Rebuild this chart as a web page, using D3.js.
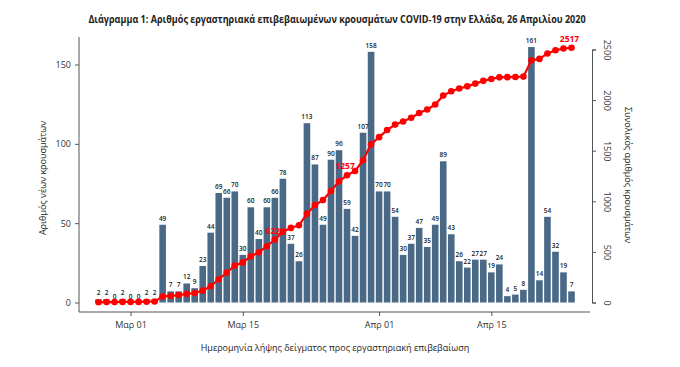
<!DOCTYPE html>
<html lang="el">
<head>
<meta charset="utf-8">
<script src="https://d3js.org/d3.v7.min.js"></script>
<style>
  body { margin: 0; background: #fff; }
  text { font-family: "Open Sans", "DejaVu Sans", sans-serif; fill: #222; }
  .axis path, .axis line { stroke: #555; }
  .barlab { font-size: 6.5px; font-weight: 600; text-anchor: middle; }
  .redlab { font-size: 8.5px; font-weight: 700; fill: #f00; text-anchor: middle; }
</style>
</head>
<body>
<div id="chart"></div>
<script>
  let width = 680;
  let height = 367;

  // Data
  let startDate = "2020-02-26";
  let newCases = [
    2, 2, 0, 2, 0, 0, 2, 2, 49, 7, 7, 12, 9, 23, 44, 69, 66, 70,
    30, 60, 40, 60, 66, 78, 37, 26, 113, 87, 49, 90, 96, 59, 42, 107, 158,
    70, 70, 54, 30, 37, 47, 35, 49, 89, 43, 26, 22, 27, 27, 19, 24, 4, 5, 8, 161, 14, 54, 32, 19, 7
  ];
  let totalCases = [
    2, 4, 4, 6, 6, 6, 8, 10, 59, 66, 73, 85, 94, 117, 161, 230, 296, 366,
    396, 456, 496, 556, 622, 700, 737, 763, 876, 963, 1012, 1102, 1198, 1257, 1299, 1406, 1564,
    1634, 1704, 1758, 1788, 1825, 1872, 1907, 1956, 2045, 2088, 2114, 2136, 2163, 2190, 2209,
    2225, 2227, 2229, 2232, 2393, 2407, 2461, 2493, 2510, 2517
  ];
  let tickDates = ["2020-03-01", "2020-03-15", "2020-04-01", "2020-04-15"];
  let tickLabels = ["Μαρ 01", "Μαρ 15", "Απρ 01", "Απρ 15"];
  let leftTicks = [0, 50, 100, 150];
  let rightTicks = [0, 500, 1000, 1500, 2000, 2500];
  let markDates = ["2020-03-19", "2020-03-28", "2020-04-25"];
  let markTexts = ["622", "1257", "2517"];

  let parse = d3.timeParse("%Y-%m-%d");
  let start = parse(startDate);
  let days = newCases.map(function (d, i) {
    return d3.timeDay.offset(start, i);
  });

  let svg = d3.select("#chart").append("svg")
    .attr("width", width)
    .attr("height", height);

  let x = d3.scaleTime()
    .domain([start, days[days.length - 1]])
    .range([98.5, 571.5]);
  let yLeft = d3.scaleLinear().domain([0, 150]).range([302.5, 64.5]);
  let yRight = d3.scaleLinear().domain([0, 2500]).range([302.5, 49.5]);
  let barW = 6.6;

  // Title (squeezed horizontally to the reference width)
  let title = svg.append("text")
    .attr("text-anchor", "middle")
    .style("font-size", "11px")
    .style("font-weight", "700")
    .text("Διάγραμμα 1: Αριθμός εργαστηριακά επιβεβαιωμένων κρουσμάτων COVID-19 στην Ελλάδα, 26 Απριλίου 2020");
  let tw = title.node().getComputedTextLength();
  let sx = Math.min(1, 498 / tw);
  title.attr("transform", "translate(337,23) scale(" + sx + ",1)");

  // Bars
  svg.append("g").selectAll("rect")
    .data(newCases)
    .enter().append("rect")
    .attr("x", function (d, i) { return x(days[i]) - barW / 2; })
    .attr("y", function (d) { return yLeft(d); })
    .attr("width", barW)
    .attr("height", function (d) { return yLeft(0) - yLeft(d); })
    .attr("fill", "#4a6986");

  svg.append("g").selectAll("text")
    .data(newCases)
    .enter().append("text")
    .classed("barlab", true)
    .attr("x", function (d, i) { return x(days[i]); })
    .attr("y", function (d) { return yLeft(d) - 4; })
    .text(function (d) { return d; });

  // Cumulative line
  let line = d3.line()
    .x(function (d, i) { return x(days[i]); })
    .y(function (d) { return yRight(d); });
  svg.append("path")
    .datum(totalCases)
    .attr("d", line)
    .attr("fill", "none")
    .attr("stroke", "#f00")
    .attr("stroke-width", 2.2);
  svg.append("g").selectAll("circle")
    .data(totalCases)
    .enter().append("circle")
    .attr("cx", function (d, i) { return x(days[i]); })
    .attr("cy", function (d) { return yRight(d); })
    .attr("r", 3.3)
    .attr("fill", "#f00");

  markDates.forEach(function (md, k) {
    let i = d3.timeDay.count(start, parse(md));
    svg.append("text")
      .classed("redlab", true)
      .attr("x", x(days[i]) - 2)
      .attr("y", yRight(totalCases[i]) - 6)
      .text(markTexts[k]);
  });

  // Left axis
  let gl = svg.append("g").attr("class", "axis").attr("transform", "translate(79,0)");
  gl.call(d3.axisLeft(yLeft).tickValues(leftTicks).tickSize(4).tickPadding(4).tickFormat(d3.format("d")));
  gl.select(".domain").remove();
  gl.selectAll("text").style("font-size", "9px").style("fill", "#333");
  svg.append("line").attr("x1", 79).attr("x2", 79).attr("y1", 37).attr("y2", 312)
    .attr("stroke", "#555");

  // Bottom axis
  let gb = svg.append("g").attr("class", "axis").attr("transform", "translate(0,312)");
  gb.call(d3.axisBottom(x)
    .tickValues(tickDates.map(parse))
    .tickSize(4).tickPadding(6)
    .tickFormat(function (d, i) { return tickLabels[i]; }));
  gb.select(".domain").remove();
  gb.selectAll("text").style("font-size", "9px").style("fill", "#333");
  svg.append("line").attr("x1", 79).attr("x2", 590).attr("y1", 312).attr("y2", 312)
    .attr("stroke", "#555");

  // Right axis
  let gr = svg.append("g").attr("class", "axis").attr("transform", "translate(592,0)");
  gr.call(d3.axisRight(yRight).tickValues(rightTicks).tickSize(4).tickPadding(0).tickFormat(d3.format("d")));
  gr.selectAll("text")
    .attr("x", 0).attr("y", 0)
    .attr("text-anchor", "middle")
    .attr("transform", "translate(15,0) rotate(90)")
    .attr("dy", "0.35em")
    .style("font-size", "9px").style("fill", "#333");

  // Axis titles
  svg.append("text")
    .attr("transform", "translate(46,178) rotate(-90)")
    .attr("text-anchor", "middle")
    .style("font-size", "9px")
    .text("Αριθμός νέων κρουσμάτων");
  svg.append("text")
    .attr("transform", "translate(625,175) rotate(90)")
    .attr("text-anchor", "middle")
    .style("font-size", "9px")
    .text("Συνολικός αριθμός κρουσμάτων");
  svg.append("text")
    .attr("x", 335).attr("y", 351)
    .attr("text-anchor", "middle")
    .style("font-size", "9px")
    .text("Ημερομηνία λήψης δείγματος προς εργαστηριακή επιβεβαίωση");
</script>
</body>
</html>
